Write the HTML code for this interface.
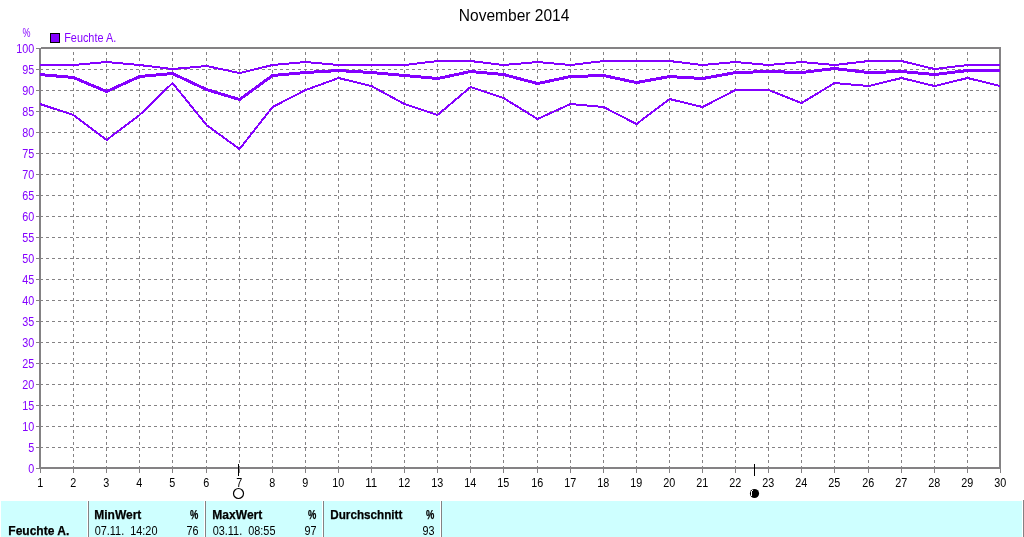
<!DOCTYPE html>
<html><head><meta charset="utf-8"><title>November 2014</title>
<style>
html,body{margin:0;padding:0;background:#fff;}
svg{display:block;}
text{font-family:"Liberation Sans",sans-serif;font-size:12.5px;}
.p{fill:#8400ff;}
.b{font-weight:bold;stroke:#000;stroke-width:0.25px;}
.r{text-anchor:end;}
.c{text-anchor:middle;}
</style></head><body>
<svg width="1024" height="537" viewBox="0 0 1024 537">
<rect x="0" y="0" width="1024" height="537" fill="#ffffff"/>
<g shape-rendering="crispEdges" stroke="#848284" stroke-width="1" fill="none">
<line x1="40" y1="69.5" x2="999" y2="69.5" stroke-dasharray="3 3"/>
<line x1="40" y1="90.5" x2="999" y2="90.5" stroke-dasharray="3 3"/>
<line x1="40" y1="111.5" x2="999" y2="111.5" stroke-dasharray="3 3"/>
<line x1="40" y1="132.5" x2="999" y2="132.5" stroke-dasharray="3 3"/>
<line x1="40" y1="153.5" x2="999" y2="153.5" stroke-dasharray="3 3"/>
<line x1="40" y1="174.5" x2="999" y2="174.5" stroke-dasharray="3 3"/>
<line x1="40" y1="195.5" x2="999" y2="195.5" stroke-dasharray="3 3"/>
<line x1="40" y1="216.5" x2="999" y2="216.5" stroke-dasharray="3 3"/>
<line x1="40" y1="237.5" x2="999" y2="237.5" stroke-dasharray="3 3"/>
<line x1="40" y1="258.5" x2="999" y2="258.5" stroke-dasharray="3 3"/>
<line x1="40" y1="279.5" x2="999" y2="279.5" stroke-dasharray="3 3"/>
<line x1="40" y1="300.5" x2="999" y2="300.5" stroke-dasharray="3 3"/>
<line x1="40" y1="321.5" x2="999" y2="321.5" stroke-dasharray="3 3"/>
<line x1="40" y1="342.5" x2="999" y2="342.5" stroke-dasharray="3 3"/>
<line x1="40" y1="363.5" x2="999" y2="363.5" stroke-dasharray="3 3"/>
<line x1="40" y1="384.5" x2="999" y2="384.5" stroke-dasharray="3 3"/>
<line x1="40" y1="405.5" x2="999" y2="405.5" stroke-dasharray="3 3"/>
<line x1="40" y1="426.5" x2="999" y2="426.5" stroke-dasharray="3 3"/>
<line x1="40" y1="447.5" x2="999" y2="447.5" stroke-dasharray="3 3"/>
<line x1="73.5" y1="469" x2="73.5" y2="49" stroke-dasharray="3 3"/>
<line x1="106.5" y1="469" x2="106.5" y2="49" stroke-dasharray="3 3"/>
<line x1="139.5" y1="469" x2="139.5" y2="49" stroke-dasharray="3 3"/>
<line x1="172.5" y1="469" x2="172.5" y2="49" stroke-dasharray="3 3"/>
<line x1="206.5" y1="469" x2="206.5" y2="49" stroke-dasharray="3 3"/>
<line x1="239.5" y1="469" x2="239.5" y2="49" stroke-dasharray="3 3"/>
<line x1="272.5" y1="469" x2="272.5" y2="49" stroke-dasharray="3 3"/>
<line x1="305.5" y1="469" x2="305.5" y2="49" stroke-dasharray="3 3"/>
<line x1="338.5" y1="469" x2="338.5" y2="49" stroke-dasharray="3 3"/>
<line x1="371.5" y1="469" x2="371.5" y2="49" stroke-dasharray="3 3"/>
<line x1="404.5" y1="469" x2="404.5" y2="49" stroke-dasharray="3 3"/>
<line x1="437.5" y1="469" x2="437.5" y2="49" stroke-dasharray="3 3"/>
<line x1="470.5" y1="469" x2="470.5" y2="49" stroke-dasharray="3 3"/>
<line x1="503.5" y1="469" x2="503.5" y2="49" stroke-dasharray="3 3"/>
<line x1="537.5" y1="469" x2="537.5" y2="49" stroke-dasharray="3 3"/>
<line x1="570.5" y1="469" x2="570.5" y2="49" stroke-dasharray="3 3"/>
<line x1="603.5" y1="469" x2="603.5" y2="49" stroke-dasharray="3 3"/>
<line x1="636.5" y1="469" x2="636.5" y2="49" stroke-dasharray="3 3"/>
<line x1="669.5" y1="469" x2="669.5" y2="49" stroke-dasharray="3 3"/>
<line x1="702.5" y1="469" x2="702.5" y2="49" stroke-dasharray="3 3"/>
<line x1="735.5" y1="469" x2="735.5" y2="49" stroke-dasharray="3 3"/>
<line x1="768.5" y1="469" x2="768.5" y2="49" stroke-dasharray="3 3"/>
<line x1="801.5" y1="469" x2="801.5" y2="49" stroke-dasharray="3 3"/>
<line x1="834.5" y1="469" x2="834.5" y2="49" stroke-dasharray="3 3"/>
<line x1="868.5" y1="469" x2="868.5" y2="49" stroke-dasharray="3 3"/>
<line x1="901.5" y1="469" x2="901.5" y2="49" stroke-dasharray="3 3"/>
<line x1="934.5" y1="469" x2="934.5" y2="49" stroke-dasharray="3 3"/>
<line x1="967.5" y1="469" x2="967.5" y2="49" stroke-dasharray="3 3"/>
<line x1="36" y1="48.5" x2="39" y2="48.5"/>
<line x1="36" y1="69.5" x2="39" y2="69.5"/>
<line x1="36" y1="90.5" x2="39" y2="90.5"/>
<line x1="36" y1="111.5" x2="39" y2="111.5"/>
<line x1="36" y1="132.5" x2="39" y2="132.5"/>
<line x1="36" y1="153.5" x2="39" y2="153.5"/>
<line x1="36" y1="174.5" x2="39" y2="174.5"/>
<line x1="36" y1="195.5" x2="39" y2="195.5"/>
<line x1="36" y1="216.5" x2="39" y2="216.5"/>
<line x1="36" y1="237.5" x2="39" y2="237.5"/>
<line x1="36" y1="258.5" x2="39" y2="258.5"/>
<line x1="36" y1="279.5" x2="39" y2="279.5"/>
<line x1="36" y1="300.5" x2="39" y2="300.5"/>
<line x1="36" y1="321.5" x2="39" y2="321.5"/>
<line x1="36" y1="342.5" x2="39" y2="342.5"/>
<line x1="36" y1="363.5" x2="39" y2="363.5"/>
<line x1="36" y1="384.5" x2="39" y2="384.5"/>
<line x1="36" y1="405.5" x2="39" y2="405.5"/>
<line x1="36" y1="426.5" x2="39" y2="426.5"/>
<line x1="36" y1="447.5" x2="39" y2="447.5"/>
<line x1="36" y1="468.5" x2="39" y2="468.5"/>
<line x1="40.5" y1="469" x2="40.5" y2="473"/>
<line x1="73.5" y1="469" x2="73.5" y2="473"/>
<line x1="106.5" y1="469" x2="106.5" y2="473"/>
<line x1="139.5" y1="469" x2="139.5" y2="473"/>
<line x1="172.5" y1="469" x2="172.5" y2="473"/>
<line x1="206.5" y1="469" x2="206.5" y2="473"/>
<line x1="239.5" y1="469" x2="239.5" y2="473"/>
<line x1="272.5" y1="469" x2="272.5" y2="473"/>
<line x1="305.5" y1="469" x2="305.5" y2="473"/>
<line x1="338.5" y1="469" x2="338.5" y2="473"/>
<line x1="371.5" y1="469" x2="371.5" y2="473"/>
<line x1="404.5" y1="469" x2="404.5" y2="473"/>
<line x1="437.5" y1="469" x2="437.5" y2="473"/>
<line x1="470.5" y1="469" x2="470.5" y2="473"/>
<line x1="503.5" y1="469" x2="503.5" y2="473"/>
<line x1="537.5" y1="469" x2="537.5" y2="473"/>
<line x1="570.5" y1="469" x2="570.5" y2="473"/>
<line x1="603.5" y1="469" x2="603.5" y2="473"/>
<line x1="636.5" y1="469" x2="636.5" y2="473"/>
<line x1="669.5" y1="469" x2="669.5" y2="473"/>
<line x1="702.5" y1="469" x2="702.5" y2="473"/>
<line x1="735.5" y1="469" x2="735.5" y2="473"/>
<line x1="768.5" y1="469" x2="768.5" y2="473"/>
<line x1="801.5" y1="469" x2="801.5" y2="473"/>
<line x1="834.5" y1="469" x2="834.5" y2="473"/>
<line x1="868.5" y1="469" x2="868.5" y2="473"/>
<line x1="901.5" y1="469" x2="901.5" y2="473"/>
<line x1="934.5" y1="469" x2="934.5" y2="473"/>
<line x1="967.5" y1="469" x2="967.5" y2="473"/>
<line x1="1000.5" y1="469" x2="1000.5" y2="473"/>
</g>
<g shape-rendering="crispEdges" fill="#848284">
<rect x="39" y="48" width="2" height="421"/>
<rect x="41" y="47" width="960" height="2"/>
<rect x="999" y="47" width="2" height="422"/>
<rect x="39" y="467" width="962" height="2"/>
</g>
<g shape-rendering="crispEdges" fill="none" stroke="#8400ff" stroke-linejoin="round">
<polyline stroke-width="2" points="40.00,65.03 73.53,65.03 106.53,62.03 139.53,65.03 172.53,69.03 206.53,66.03 239.53,73.03 272.53,65.03 305.53,62.03 338.53,65.03 371.53,65.03 404.53,65.03 437.53,61.03 470.53,61.03 503.53,65.03 537.53,62.03 570.53,65.03 603.53,61.03 636.53,61.03 669.53,61.03 702.53,65.03 735.53,62.03 768.53,65.03 801.53,62.03 834.53,65.03 868.53,61.03 901.53,61.03 934.53,69.03 967.53,65.03 1000.00,65.03"/>
<polyline stroke-width="3" points="40.00,74.53 73.53,77.53 106.53,91.53 139.53,76.53 172.53,73.53 206.53,89.53 239.53,99.53 272.53,75.53 305.53,72.53 338.53,70.53 371.53,72.53 404.53,75.53 437.53,78.53 470.53,71.53 503.53,74.53 537.53,83.53 570.53,76.53 603.53,75.53 636.53,82.53 669.53,76.53 702.53,78.53 735.53,72.53 768.53,71.53 801.53,72.53 834.53,68.53 868.53,72.53 901.53,71.53 934.53,74.53 967.53,70.53 1000.00,70.53"/>
<polyline stroke-width="2" points="40.00,104.03 73.53,115.03 106.53,140.03 139.53,115.03 172.53,83.03 206.53,125.03 239.53,149.03 272.53,107.03 305.53,90.03 338.53,78.03 371.53,86.03 404.53,104.03 437.53,115.03 470.53,87.03 503.53,98.03 537.53,119.03 570.53,104.03 603.53,107.03 636.53,124.03 669.53,99.03 702.53,107.03 735.53,90.03 768.53,90.03 801.53,103.03 834.53,83.03 868.53,86.03 901.53,78.03 934.53,86.03 967.53,78.03 1000.00,85.90"/>
</g>
<text x="458.8" y="21" textLength="110.6" lengthAdjust="spacingAndGlyphs" style="font-size:16.4px">November 2014</text>
<text x="22.5" y="37" class="p" textLength="8" lengthAdjust="spacingAndGlyphs">%</text>
<text x="16.3" y="53.0" class="p" textLength="18" lengthAdjust="spacingAndGlyphs">100</text>
<text x="22.3" y="74.0" class="p" textLength="12" lengthAdjust="spacingAndGlyphs">95</text>
<text x="22.3" y="95.0" class="p" textLength="12" lengthAdjust="spacingAndGlyphs">90</text>
<text x="22.3" y="116.0" class="p" textLength="12" lengthAdjust="spacingAndGlyphs">85</text>
<text x="22.3" y="137.0" class="p" textLength="12" lengthAdjust="spacingAndGlyphs">80</text>
<text x="22.3" y="158.0" class="p" textLength="12" lengthAdjust="spacingAndGlyphs">75</text>
<text x="22.3" y="179.0" class="p" textLength="12" lengthAdjust="spacingAndGlyphs">70</text>
<text x="22.3" y="200.0" class="p" textLength="12" lengthAdjust="spacingAndGlyphs">65</text>
<text x="22.3" y="221.0" class="p" textLength="12" lengthAdjust="spacingAndGlyphs">60</text>
<text x="22.3" y="242.0" class="p" textLength="12" lengthAdjust="spacingAndGlyphs">55</text>
<text x="22.3" y="263.0" class="p" textLength="12" lengthAdjust="spacingAndGlyphs">50</text>
<text x="22.3" y="284.0" class="p" textLength="12" lengthAdjust="spacingAndGlyphs">45</text>
<text x="22.3" y="305.0" class="p" textLength="12" lengthAdjust="spacingAndGlyphs">40</text>
<text x="22.3" y="326.0" class="p" textLength="12" lengthAdjust="spacingAndGlyphs">35</text>
<text x="22.3" y="347.0" class="p" textLength="12" lengthAdjust="spacingAndGlyphs">30</text>
<text x="22.3" y="368.0" class="p" textLength="12" lengthAdjust="spacingAndGlyphs">25</text>
<text x="22.3" y="389.0" class="p" textLength="12" lengthAdjust="spacingAndGlyphs">20</text>
<text x="22.3" y="410.0" class="p" textLength="12" lengthAdjust="spacingAndGlyphs">15</text>
<text x="22.3" y="431.0" class="p" textLength="12" lengthAdjust="spacingAndGlyphs">10</text>
<text x="28.3" y="452.0" class="p" textLength="6" lengthAdjust="spacingAndGlyphs">5</text>
<text x="28.3" y="473.0" class="p" textLength="6" lengthAdjust="spacingAndGlyphs">0</text>
<rect x="50.5" y="33.5" width="9" height="9" fill="#8400ff" stroke="#000" stroke-width="1" shape-rendering="crispEdges"/>
<text x="64.2" y="42" class="p" textLength="52" lengthAdjust="spacingAndGlyphs">Feuchte A.</text>
<text x="37.3" y="487" textLength="6" lengthAdjust="spacingAndGlyphs">1</text>
<text x="70.3" y="487" textLength="6" lengthAdjust="spacingAndGlyphs">2</text>
<text x="103.3" y="487" textLength="6" lengthAdjust="spacingAndGlyphs">3</text>
<text x="136.3" y="487" textLength="6" lengthAdjust="spacingAndGlyphs">4</text>
<text x="169.3" y="487" textLength="6" lengthAdjust="spacingAndGlyphs">5</text>
<text x="203.3" y="487" textLength="6" lengthAdjust="spacingAndGlyphs">6</text>
<text x="236.3" y="487" textLength="6" lengthAdjust="spacingAndGlyphs">7</text>
<text x="269.3" y="487" textLength="6" lengthAdjust="spacingAndGlyphs">8</text>
<text x="302.3" y="487" textLength="6" lengthAdjust="spacingAndGlyphs">9</text>
<text x="332.3" y="487" textLength="12" lengthAdjust="spacingAndGlyphs">10</text>
<text x="365.3" y="487" textLength="12" lengthAdjust="spacingAndGlyphs">11</text>
<text x="398.3" y="487" textLength="12" lengthAdjust="spacingAndGlyphs">12</text>
<text x="431.3" y="487" textLength="12" lengthAdjust="spacingAndGlyphs">13</text>
<text x="464.3" y="487" textLength="12" lengthAdjust="spacingAndGlyphs">14</text>
<text x="497.3" y="487" textLength="12" lengthAdjust="spacingAndGlyphs">15</text>
<text x="531.3" y="487" textLength="12" lengthAdjust="spacingAndGlyphs">16</text>
<text x="564.3" y="487" textLength="12" lengthAdjust="spacingAndGlyphs">17</text>
<text x="597.3" y="487" textLength="12" lengthAdjust="spacingAndGlyphs">18</text>
<text x="630.3" y="487" textLength="12" lengthAdjust="spacingAndGlyphs">19</text>
<text x="663.3" y="487" textLength="12" lengthAdjust="spacingAndGlyphs">20</text>
<text x="696.3" y="487" textLength="12" lengthAdjust="spacingAndGlyphs">21</text>
<text x="729.3" y="487" textLength="12" lengthAdjust="spacingAndGlyphs">22</text>
<text x="762.3" y="487" textLength="12" lengthAdjust="spacingAndGlyphs">23</text>
<text x="795.3" y="487" textLength="12" lengthAdjust="spacingAndGlyphs">24</text>
<text x="828.3" y="487" textLength="12" lengthAdjust="spacingAndGlyphs">25</text>
<text x="862.3" y="487" textLength="12" lengthAdjust="spacingAndGlyphs">26</text>
<text x="895.3" y="487" textLength="12" lengthAdjust="spacingAndGlyphs">27</text>
<text x="928.3" y="487" textLength="12" lengthAdjust="spacingAndGlyphs">28</text>
<text x="961.3" y="487" textLength="12" lengthAdjust="spacingAndGlyphs">29</text>
<text x="994.3" y="487" textLength="12" lengthAdjust="spacingAndGlyphs">30</text>
<rect x="238" y="464" width="1" height="12" fill="#000" shape-rendering="crispEdges"/>
<circle cx="238.5" cy="493.5" r="5" fill="#fff" stroke="#000" stroke-width="1.2"/>
<rect x="754" y="464" width="1" height="12" fill="#000" shape-rendering="crispEdges"/>
<circle cx="754.5" cy="493.5" r="4.6" fill="#000"/>
<rect x="751" y="491" width="1" height="5" fill="#fff" shape-rendering="crispEdges"/>
<rect x="752" y="490" width="1" height="1" fill="#fff" shape-rendering="crispEdges"/>
<g shape-rendering="crispEdges">
<rect x="1" y="501" width="1022" height="36" fill="#ceffff"/>
<rect x="87" y="501" width="1" height="36" fill="#ffffff"/>
<rect x="88" y="501" width="1" height="36" fill="#848284"/>
<rect x="204" y="501" width="1" height="36" fill="#ffffff"/>
<rect x="205" y="501" width="1" height="36" fill="#848284"/>
<rect x="322" y="501" width="1" height="36" fill="#ffffff"/>
<rect x="323" y="501" width="1" height="36" fill="#848284"/>
<rect x="440" y="501" width="1" height="36" fill="#ffffff"/>
<rect x="441" y="501" width="1" height="36" fill="#848284"/>
<rect x="1022" y="501" width="1" height="36" fill="#ffffff"/>
<rect x="1023" y="500" width="1" height="37" fill="#848284"/>
</g>
<text x="8.3" y="535.0" class="b" textLength="61.0" lengthAdjust="spacingAndGlyphs" xml:space="preserve">Feuchte A.</text>
<text x="94.3" y="519.0" class="b" textLength="47.0" lengthAdjust="spacingAndGlyphs" xml:space="preserve">MinWert</text>
<text x="189.9" y="519.0" class="b" textLength="8.3" lengthAdjust="spacingAndGlyphs" xml:space="preserve">%</text>
<text x="94.7" y="535.0" textLength="62.8" lengthAdjust="spacingAndGlyphs" xml:space="preserve">07.11.  14:20</text>
<text x="186.6" y="535.0" textLength="12.0" lengthAdjust="spacingAndGlyphs" xml:space="preserve">76</text>
<text x="212.3" y="519.0" class="b" textLength="50.0" lengthAdjust="spacingAndGlyphs" xml:space="preserve">MaxWert</text>
<text x="307.9" y="519.0" class="b" textLength="8.3" lengthAdjust="spacingAndGlyphs" xml:space="preserve">%</text>
<text x="212.7" y="535.0" textLength="62.8" lengthAdjust="spacingAndGlyphs" xml:space="preserve">03.11.  08:55</text>
<text x="304.6" y="535.0" textLength="12.0" lengthAdjust="spacingAndGlyphs" xml:space="preserve">97</text>
<text x="330.3" y="519.0" class="b" textLength="72.0" lengthAdjust="spacingAndGlyphs" xml:space="preserve">Durchschnitt</text>
<text x="425.9" y="519.0" class="b" textLength="8.3" lengthAdjust="spacingAndGlyphs" xml:space="preserve">%</text>
<text x="422.6" y="535.0" textLength="12.0" lengthAdjust="spacingAndGlyphs" xml:space="preserve">93</text>
</svg>
</body></html>
